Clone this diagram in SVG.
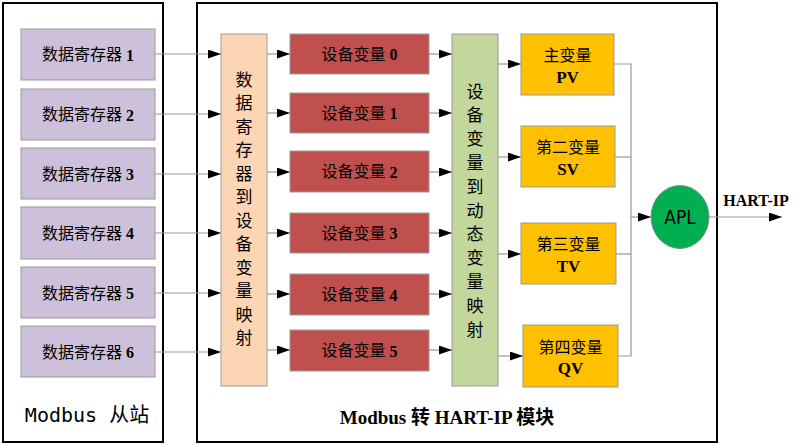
<svg xmlns="http://www.w3.org/2000/svg" width="800" height="445" viewBox="0 0 800 445">
<defs>
<marker id="ah" markerUnits="userSpaceOnUse" markerWidth="14" markerHeight="10" refX="13" refY="4.5" orient="auto">
<path d="M0,0 L13,4.5 L0,9 z" fill="#000"/>
</marker>
<style>
.frame{fill:#fff;stroke:#000;stroke-width:2}
.reg{fill:#CCC0DA;stroke:#999;stroke-width:1}
.map1{fill:#FCD5B5;stroke:#999;stroke-width:1}
.dv{fill:#C0504D;stroke:#999;stroke-width:1}
.map2{fill:#C3D69B;stroke:#999;stroke-width:1}
.pv{fill:#FFC000;stroke:#999;stroke-width:1}
.apl{fill:#00B050;stroke:#888;stroke-width:1}
.ln{fill:none;stroke:#999;stroke-width:1.2}
.arr{fill:none;stroke:#999;stroke-width:1.2;marker-end:url(#ah)}
text{font-family:"Liberation Serif","Noto Sans CJK SC",serif;fill:#000;text-anchor:middle;dominant-baseline:central}
.t16{font-size:16px}
.b{font-weight:bold}
.v{font-size:17px}
.o{font-size:16px}
.ov{font-size:17px;font-weight:bold}
</style>
</defs>
<rect class="frame" x="3" y="3" width="160" height="439"/>
<rect class="frame" x="197" y="3" width="520" height="439"/>

<g id="connectors">
<line class="arr" x1="155" y1="54" x2="221" y2="54"/>
<line class="arr" x1="155" y1="114" x2="221" y2="114"/>
<line class="arr" x1="155" y1="174" x2="221" y2="174"/>
<line class="arr" x1="155" y1="233" x2="221" y2="233"/>
<line class="arr" x1="155" y1="293" x2="221" y2="293"/>
<line class="arr" x1="155" y1="352" x2="221" y2="352"/>

<line class="arr" x1="267" y1="54" x2="290" y2="54"/>
<line class="arr" x1="267" y1="113" x2="290" y2="113"/>
<line class="arr" x1="267" y1="172" x2="290" y2="172"/>
<line class="arr" x1="267" y1="233" x2="290" y2="233"/>
<line class="arr" x1="267" y1="294" x2="290" y2="294"/>
<line class="arr" x1="267" y1="350" x2="290" y2="350"/>

<line class="arr" x1="429" y1="54" x2="452" y2="54"/>
<line class="arr" x1="429" y1="113" x2="452" y2="113"/>
<line class="arr" x1="429" y1="172" x2="452" y2="172"/>
<line class="arr" x1="429" y1="233" x2="452" y2="233"/>
<line class="arr" x1="429" y1="294" x2="452" y2="294"/>
<line class="arr" x1="429" y1="350" x2="452" y2="350"/>

<line class="arr" x1="498" y1="64" x2="521" y2="64"/>
<line class="arr" x1="498" y1="157" x2="521" y2="157"/>
<line class="arr" x1="498" y1="254" x2="521" y2="254"/>
<line class="arr" x1="498" y1="356" x2="523" y2="356"/>

<polyline class="ln" points="614,64 631,64 631,356 618,356"/>
<line class="ln" x1="615" y1="157" x2="631" y2="157"/>
<line class="ln" x1="616" y1="254" x2="631" y2="254"/>
<line class="arr" x1="631" y1="217" x2="651" y2="217"/>
<line class="arr" x1="709" y1="217" x2="782" y2="217"/>
</g>

<g id="reg1"><rect class="reg" x="21" y="29" width="134" height="51"/><text class="t16" x="88" y="54.5">数据寄存器 <tspan class="b">1</tspan></text></g>
<g id="reg2"><rect class="reg" x="21" y="89" width="134" height="51"/><text class="t16" x="88" y="114.5">数据寄存器 <tspan class="b">2</tspan></text></g>
<g id="reg3"><rect class="reg" x="21" y="148" width="134" height="51"/><text class="t16" x="88" y="174">数据寄存器 <tspan class="b">3</tspan></text></g>
<g id="reg4"><rect class="reg" x="21" y="207" width="134" height="52"/><text class="t16" x="88" y="233">数据寄存器 <tspan class="b">4</tspan></text></g>
<g id="reg5"><rect class="reg" x="21" y="267" width="134" height="51"/><text class="t16" x="88" y="293">数据寄存器 <tspan class="b">5</tspan></text></g>
<g id="reg6"><rect class="reg" x="21" y="326" width="134" height="51"/><text class="t16" x="88" y="352">数据寄存器 <tspan class="b">6</tspan></text></g>

<g id="map1"><rect class="map1" x="221" y="34" width="46" height="352"/>
<text class="v" x="244" y="80">数</text><text class="v" x="244" y="103.5">据</text><text class="v" x="244" y="127">寄</text><text class="v" x="244" y="150.5">存</text><text class="v" x="244" y="174">器</text><text class="v" x="244" y="197.5">到</text><text class="v" x="244" y="221">设</text><text class="v" x="244" y="244.5">备</text><text class="v" x="244" y="268">变</text><text class="v" x="244" y="291.5">量</text><text class="v" x="244" y="315">映</text><text class="v" x="244" y="338.5">射</text>
</g>

<g id="dv0"><rect class="dv" x="290" y="34" width="139" height="40"/><text class="t16" x="359.5" y="54">设备变量 <tspan class="b">0</tspan></text></g>
<g id="dv1"><rect class="dv" x="290" y="93" width="139" height="40"/><text class="t16" x="359.5" y="113">设备变量 <tspan class="b">1</tspan></text></g>
<g id="dv2"><rect class="dv" x="290" y="151" width="139" height="41"/><text class="t16" x="359.5" y="171.5">设备变量 <tspan class="b">2</tspan></text></g>
<g id="dv3"><rect class="dv" x="290" y="213" width="139" height="40"/><text class="t16" x="359.5" y="233">设备变量 <tspan class="b">3</tspan></text></g>
<g id="dv4"><rect class="dv" x="290" y="274" width="139" height="41"/><text class="t16" x="359.5" y="294.5">设备变量 <tspan class="b">4</tspan></text></g>
<g id="dv5"><rect class="dv" x="290" y="330" width="139" height="41"/><text class="t16" x="359.5" y="350.5">设备变量 <tspan class="b">5</tspan></text></g>

<g id="map2"><rect class="map2" x="452" y="34" width="46" height="352"/>
<text class="v" x="475" y="92">设</text><text class="v" x="475" y="115.8">备</text><text class="v" x="475" y="139.6">变</text><text class="v" x="475" y="163.4">量</text><text class="v" x="475" y="187.2">到</text><text class="v" x="475" y="211">动</text><text class="v" x="475" y="234.8">态</text><text class="v" x="475" y="258.6">变</text><text class="v" x="475" y="282.4">量</text><text class="v" x="475" y="306.2">映</text><text class="v" x="475" y="330">射</text>
</g>

<g id="pv"><rect class="pv" x="521" y="34" width="93" height="61"/><text class="o" x="567.5" y="55">主变量</text><text class="ov" x="567.5" y="77">PV</text></g>
<g id="sv"><rect class="pv" x="521" y="126" width="94" height="61"/><text class="o" x="568" y="147">第二变量</text><text class="ov" x="568" y="169">SV</text></g>
<g id="tv"><rect class="pv" x="521" y="223" width="95" height="61"/><text class="o" x="568.5" y="244">第三变量</text><text class="ov" x="568.5" y="266">TV</text></g>
<g id="qv"><rect class="pv" x="523" y="325" width="95" height="62"/><text class="o" x="570.5" y="347">第四变量</text><text class="ov" x="570.5" y="368">QV</text></g>

<g id="apl"><ellipse class="apl" cx="680" cy="217" rx="29" ry="31.5"/><text x="680" y="217" style="font-family:'Liberation Sans Narrow','DejaVu Sans Condensed',sans-serif;font-size:19px">APL</text></g>

<text class="b" x="756" y="200" style="font-size:16px">HART-IP</text>
<text x="87" y="415" style="font-family:'DejaVu Sans Mono','Noto Sans CJK SC',monospace;font-size:20px">Modbus 从站</text>
<text class="b" x="447" y="417" style="font-size:19px">Modbus 转 HART-IP 模块</text>
</svg>
